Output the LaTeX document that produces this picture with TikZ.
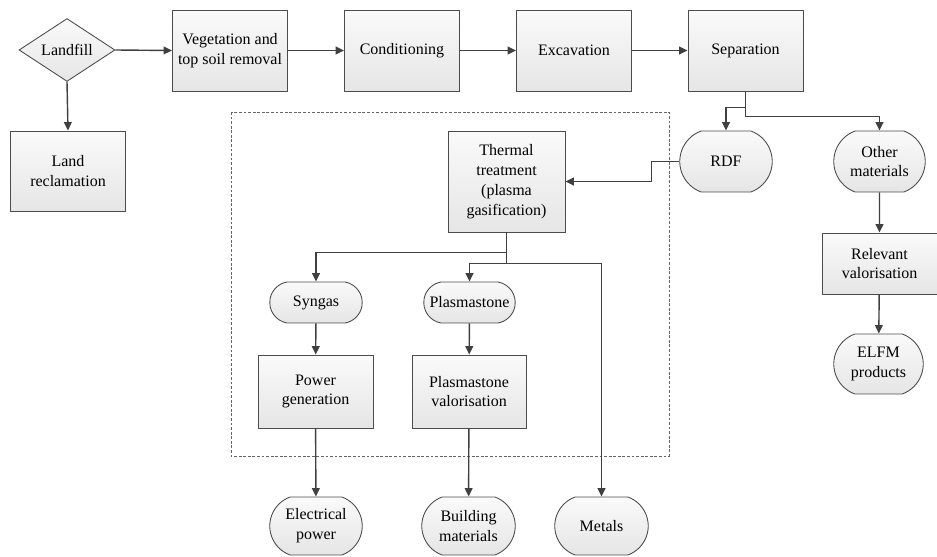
\documentclass[tikz,border=0pt]{standalone}
\usepackage{fontspec}
\setmainfont{Liberation Serif}
\usetikzlibrary{arrows.meta}
\usetikzlibrary{shapes.geometric,shapes.misc}

\begin{document}
\begin{tikzpicture}[x=0.02cm,y=-0.02cm,>={Triangle[length=4.8pt,width=4.4pt]},
		every node/.style={font=\fontsize{9.1}{11.3}\selectfont,align=center,text=black,inner sep=1pt},
		proc/.style={draw=black!70,line width=0.5pt,top color=gray!4,bottom color=gray!20,minimum width=2.3cm,minimum height=1.62cm},
		term/.style={rounded rectangle,rounded rectangle arc length=140,draw=black!70,line width=0.5pt,top color=gray!4,bottom color=gray!20,minimum width=1.92cm,minimum height=1.22cm},
		flow/.style={draw=black!75,line width=0.8pt,->}]
			\useasboundingbox (0,0) rectangle (937,557);
			\draw[black!60,line width=0.4pt,dash pattern=on 1.6pt off 1pt] (231,112) rectangle (669,456);
			\node[diamond,draw=black!70,line width=0.5pt,top color=gray!4,bottom color=gray!20,inner sep=0pt,minimum width=1.92cm,minimum height=1.2cm] (landfill) at (67,50) {Landfill};
			\node[proc] (veg) at (230,50.5) {Vegetation and\\top soil removal};
			\node[proc] (cond) at (402,50.5) {Conditioning};
			\node[proc] (exc) at (574,50.5) {Excavation};
			\node[proc] (sep) at (745.5,50.5) {Separation};
			\node[proc,minimum height=1.6cm] (land) at (68,171) {Land\\reclamation};
			\node[proc,minimum width=2.34cm,minimum height=2.02cm] (thermal) at (506.5,181.5) {Thermal\\treatment\\(plasma\\gasification)};
			\node[term] (rdf) at (726,161.5) {RDF};
			\node[term,minimum width=1.9cm] (other) at (879.5,161.5) {Other\\materials};
			\node[proc,minimum height=1.22cm] (relv) at (879.5,263.5) {Relevant\\valorisation};
			\node[term,minimum width=1.86cm,minimum height=1.2cm] (elfm) at (878.5,364) {ELFM\\products};
			\node[term,rounded rectangle arc length=160,minimum height=0.82cm] (syngas) at (316,302.5) {Syngas};
			\node[term,rounded rectangle arc length=160,minimum width=1.9cm,minimum height=0.82cm] (plasmastone) at (469.5,302.5) {Plasmastone};
			\node[proc,minimum height=1.46cm] (power) at (315.5,391.5) {Power\\generation};
			\node[proc,minimum width=2.28cm,minimum height=1.46cm] (pval) at (469,391.5) {Plasmastone\\valorisation};
			\node[term,minimum height=1.16cm] (elec) at (316,526) {Electrical\\power};
			\node[term,minimum width=1.94cm,minimum height=1.16cm] (build) at (468.5,526) {Building\\materials};
			\node[term,minimum width=1.94cm,minimum height=1.16cm] (metals) at (601.5,526) {Metals};
			\draw[flow] (landfill.east) -- (veg.west);
			\draw[flow] (veg) -- (cond);
			\draw[flow] (cond) -- (exc);
			\draw[flow] (exc) -- (sep);
			\draw[flow] (landfill.south) -- (land.north);
			\draw[flow] (sep.south) -- ++(0,16) -| (rdf.north);
			\draw[flow] (sep.south) -- ++(0,25) -| (other.north);
			\draw[flow] (rdf.west) -- ++(-28,0) |- (thermal.east);
			\draw[flow] (thermal.south) -- ++(0,20) -| (syngas.north);
			\draw[flow] (thermal.south) -- ++(0,31) -| (plasmastone.north);
			\draw[flow] (thermal.south) -- ++(0,31) -| (metals.north);
			\draw[flow] (other) -- (relv);
			\draw[flow] (relv) -- (elfm);
			\draw[flow] (syngas) -- (power);
			\draw[flow] (power) -- (elec);
			\draw[flow] (plasmastone) -- (pval);
			\draw[flow] (pval) -- (build);
		\end{tikzpicture}
\end{document}
